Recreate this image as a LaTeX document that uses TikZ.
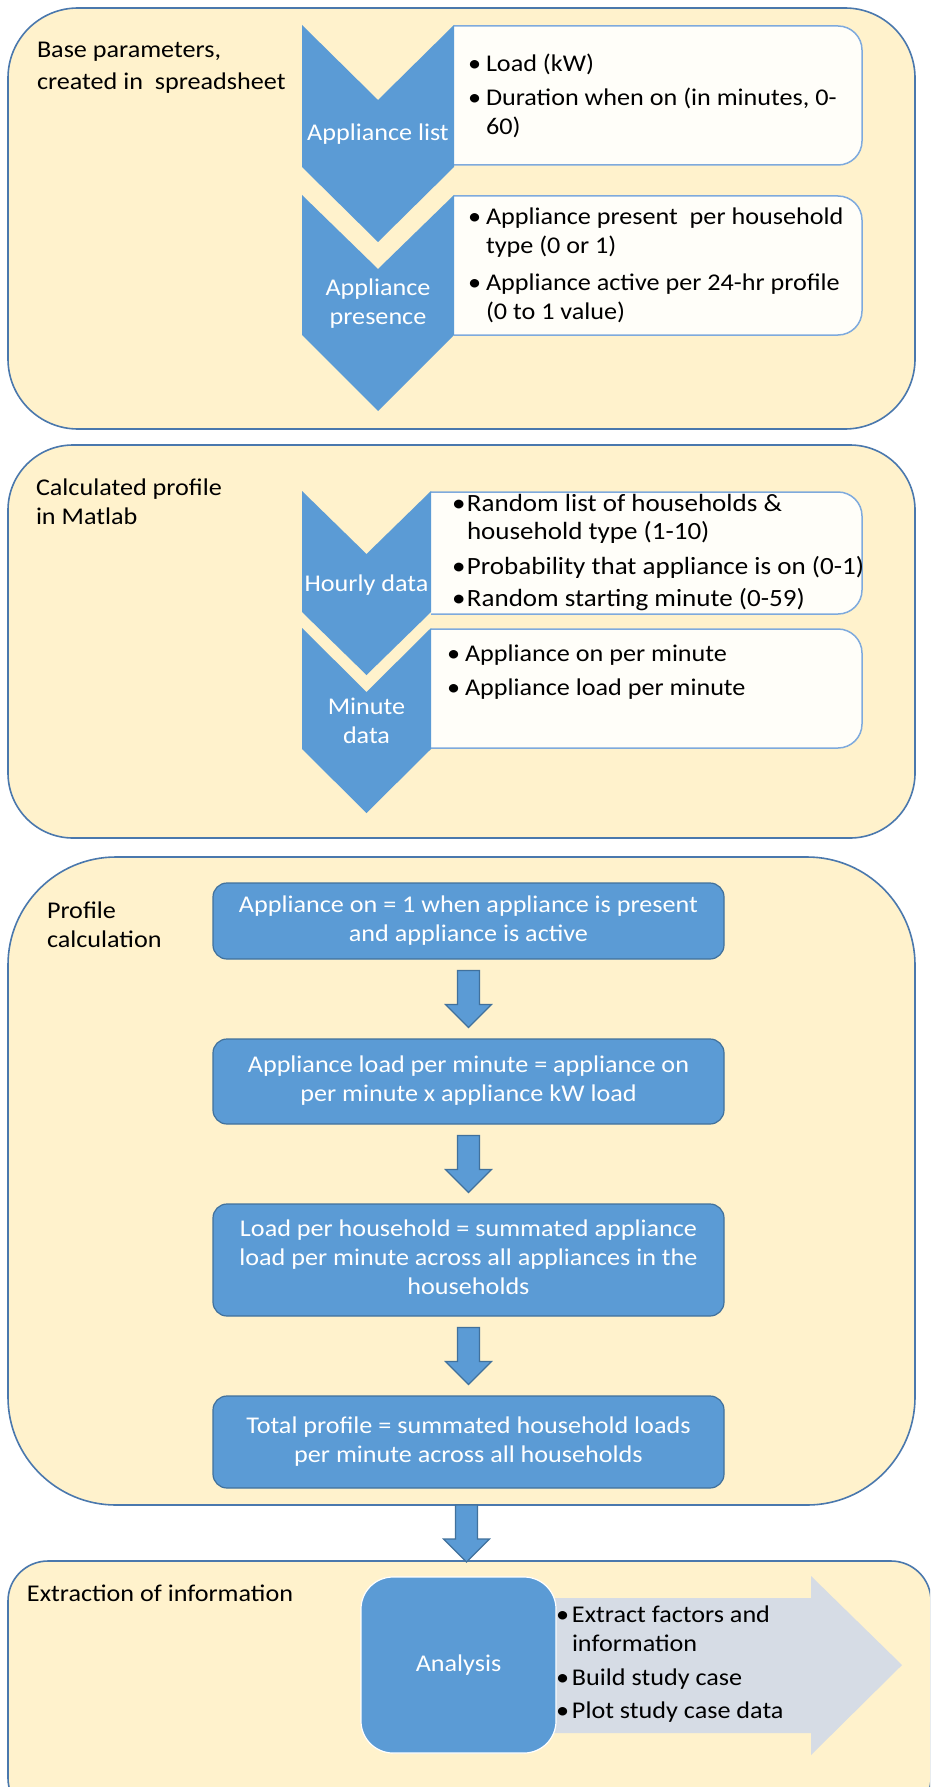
\documentclass[tikz,border=0pt]{standalone}
\usepackage{fontspec}
\setmainfont{Carlito}[FakeStretch=1.09]
\usetikzlibrary{calc}
\definecolor{cream}{HTML}{FFF2CC}
\definecolor{boxline}{HTML}{4A78AD}
\definecolor{mblue}{HTML}{5B9BD5}
\definecolor{dblue}{HTML}{41719C}
\definecolor{lblue}{HTML}{7EAADD}
\definecolor{lgray}{HTML}{D6DCE5}
\definecolor{tfill}{HTML}{FFFEF9}
\newcommand{\ml}[2]{\begin{tabular}[t]{@{}#1@{}}#2\end{tabular}}
\newcommand{\bitem}[2]{\makebox[#1][l]{\hspace{-3pt}\textbullet}\begin{tabular}[t]{@{}l@{}}#2\end{tabular}}
\tikzset{
  pics/downarr/.style={code={
    \filldraw[fill=mblue, draw=dblue, line width=1.2pt]
      (-11,0) -- (11,0) -- (11,34) -- (23,34) -- (0,57) -- (-23,34) -- (-11,34) -- cycle;}}
}
\begin{document}
\begin{tikzpicture}[x=1pt, y=-1pt,
  every node/.style={inner sep=0pt, outer sep=0pt, font=\fontsize{24}{29}\selectfont},
  outer/.style={draw=boxline, fill=cream, line width=1.6pt},
  tbox/.style={draw=lblue, fill=tfill, line width=1.5pt, rounded corners=24pt},
  chev/.style={fill=mblue},
  wtext/.style={text=white},
  btext/.style={text=black, anchor=base west},
  bigtext/.style={font=\fontsize{24.8}{28}\selectfont},
  bluebox/.style={draw=dblue, fill=mblue, line width=1.2pt, rounded corners=14pt, minimum width=511pt, text=white},
]
\clip (0,0) rectangle (930,1787);
\fill[white] (0,0) rectangle (930,1787);

% outer boxes
\node[outer, rounded corners=70pt, minimum width=907pt, minimum height=421pt] (B1) at (461.5,218.5) {};
\node[outer, rounded corners=65pt, minimum width=907pt, minimum height=393pt] (B2) at (461.5,641.5) {};
\node[outer, rounded corners=108pt, minimum width=907pt, minimum height=648pt] (B3) at (461.5,1181) {};
\node[outer, rounded corners=40pt, minimum width=923pt, minimum height=257pt] (B4) at (469.5,1689.5) {};

% titles
\node[btext, font=\fontsize{24}{32}\selectfont] (t1) at (37,58) {\ml{l}{Base parameters,\\created in\ \ spreadsheet}};
\node[btext] (t2) at (36,495) {\ml{l}{Calculated profile\\in Matlab}};
\node[btext] (t3) at (47,918) {\ml{l}{Profile\\calculation}};
\node[btext] (t4) at (27,1601) {Extraction of information};

% box 1
\filldraw[tbox] (454,26) -- (862,26) -- (862,165) -- (454,165);
\filldraw[tbox] (454,196) -- (862,196) -- (862,335) -- (454,335);
\fill[chev] (302,25) -- (378,100) -- (454,25) -- (454,167) -- (378,242) -- (302,167) -- cycle;
\fill[chev] (302,195) -- (378,269) -- (454,195) -- (454,335) -- (378,411) -- (302,335) -- cycle;
\node[wtext, anchor=base] (c1) at (378,141) {Appliance list};
\node[wtext, anchor=base] (c2) at (378,295) {\ml{c}{Appliance\\presence}};
\node[btext] (b11) at (471,72) {\bitem{15pt}{Load (kW)}};
\node[btext] (b12) at (471,106) {\bitem{15pt}{Duration when on (in minutes, 0-\\60)}};
\node[btext] (b21) at (471,225) {\bitem{15pt}{Appliance present\ \ per household\\type (0 or 1)}};
\node[btext] (b22) at (471,290) {\bitem{15pt}{Appliance active per 24-hr profile\\(0 to 1 value)}};

% box 2
\filldraw[tbox] (431,492) -- (862,492) -- (862,614) -- (431,614);
\filldraw[tbox] (431,629) -- (862,629) -- (862,748) -- (431,748);
\fill[chev] (302,491) -- (366.5,554) -- (431,491) -- (431,612) -- (366.5,675) -- (302,612) -- cycle;
\fill[chev] (302,628) -- (366.5,692) -- (431,628) -- (431,749) -- (366.5,813) -- (302,749) -- cycle;
\node[wtext, anchor=base] (c3) at (366.5,591) {Hourly data};
\node[wtext, anchor=base] (c4) at (366.5,714) {\ml{c}{Minute\\data}};
\node[btext, bigtext] (b31) at (455,511) {\bitem{12pt}{Random list of households \&\\household type (1-10)}};
\node[btext, bigtext] (b32) at (455,574) {\bitem{12pt}{Probability that appliance is on (0-1)}};
\node[btext, bigtext] (b33) at (455,606) {\bitem{12pt}{Random starting minute (0-59)}};
\node[btext] (b41) at (450,661) {\bitem{15pt}{Appliance on per minute}};
\node[btext] (b42) at (450,695) {\bitem{15pt}{Appliance load per minute}};

% box 3
\node[bluebox, minimum height=76pt] (r1) at (468.5,921) {\ml{c}{Appliance on = 1 when appliance is present\\and appliance is active}};
\node[bluebox, minimum height=85pt] (r2) at (468.5,1081.5) {\ml{c}{Appliance load per minute = appliance on\\per minute x appliance kW load}};
\node[bluebox, minimum height=112pt] (r3) at (468.5,1260) {\ml{c}{Load per household = summated appliance\\load per minute across all appliances in the\\households}};
\node[bluebox, minimum height=92pt] (r4) at (468.5,1442) {\ml{c}{Total profile = summated household loads\\per minute across all households}};
\pic at ($(r1.south)!0.5!(r2.north)+(0,-28.5)$) {downarr};
\pic at ($(r2.south)!0.5!(r3.north)+(0,-28.5)$) {downarr};
\pic at ($(r3.south)!0.5!(r4.north)+(0,-28.5)$) {downarr};
\pic at ($(r4.south|-B3.south)+(-2,0)$) {downarr};

% box 4
\fill[lgray] (540,1598) -- (811,1598) -- (811,1576) -- (902,1665) -- (811,1755) -- (811,1733) -- (540,1733) -- cycle;
\node[draw=white, line width=1.2pt, fill=mblue, rounded corners=32pt, minimum width=195pt, minimum height=176pt, text=white] (an) at (458.5,1665) {Analysis};
\node[btext] (b51) at (559,1622) {\bitem{13pt}{Extract factors and\\information}};
\node[btext] (b52) at (559,1685) {\bitem{13pt}{Build study case}};
\node[btext] (b53) at (559,1718) {\bitem{13pt}{Plot study case data}};
\end{tikzpicture}
\end{document}
